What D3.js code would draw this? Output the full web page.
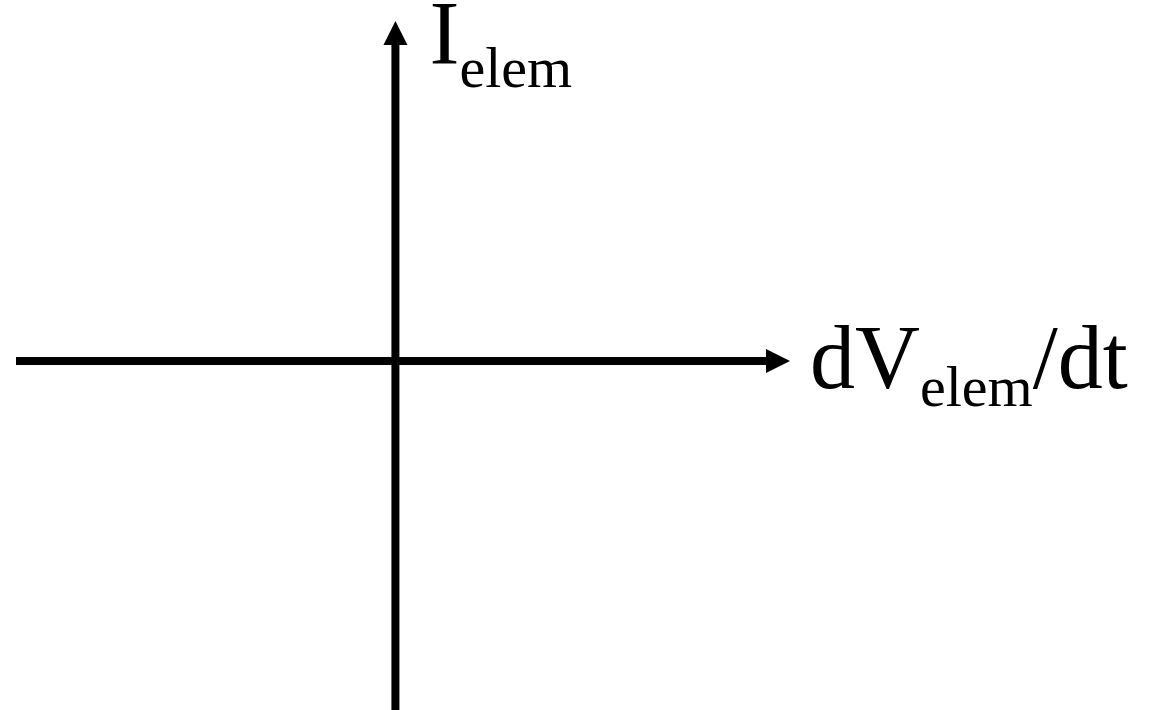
<!DOCTYPE html>
<html>
<head>
<meta charset="utf-8">
<script src="https://cdn.jsdelivr.net/npm/d3@7"></script>
<style>
  html, body { margin: 0; padding: 0; background: #fff; }
  svg { display: block; }
</style>
</head>
<body>
<div id="chart"></div>
<script>
// axis extents (arbitrary units, origin at 0)
const xExtent = [-1, 1.04];
const yExtent = [-1.05, 1];

// label parts: main text, subscript, trailing text
const xLabel = ["dV", "elem", "/dt"];
const yLabel = ["I", "elem", ""];

const width = 1168, height = 710;
const arrowLen = 24, arrowHalf = 12;
const fontMain = 90, fontSub = 58;

const svg = d3.select("#chart")
  .append("svg")
  .attr("width", width)
  .attr("height", height);

const x = d3.scaleLinear().domain(xExtent).range([16, 790]);
const y = d3.scaleLinear().domain(yExtent).range([718, 21]);

const g = svg.append("g");

// horizontal axis, stops at arrow base
g.append("line")
  .attr("x1", x(xExtent[0])).attr("x2", x(xExtent[1]) - arrowLen + 2)
  .attr("y1", y(0)).attr("y2", y(0))
  .attr("stroke", "#000").attr("stroke-width", 8);

g.append("path")
  .attr("d", d3.line()([
    [x(xExtent[1]), y(0)],
    [x(xExtent[1]) - arrowLen, y(0) - arrowHalf],
    [x(xExtent[1]) - arrowLen, y(0) + arrowHalf]
  ]) + "Z")
  .attr("fill", "#000");

// vertical axis
g.append("line")
  .attr("x1", x(0)).attr("x2", x(0))
  .attr("y1", y(yExtent[0])).attr("y2", y(yExtent[1]) + arrowLen - 2)
  .attr("stroke", "#000").attr("stroke-width", 8);

g.append("path")
  .attr("d", d3.line()([
    [x(0), y(yExtent[1])],
    [x(0) - arrowHalf, y(yExtent[1]) + arrowLen],
    [x(0) + arrowHalf, y(yExtent[1]) + arrowLen]
  ]) + "Z")
  .attr("fill", "#000");

function drawLabel(parts, px, py, subDrop) {
  const t = g.append("text")
    .attr("x", px).attr("y", py)
    .attr("font-family", "'Liberation Serif', 'Times New Roman', serif")
    .attr("font-size", fontMain)
    .attr("fill", "#000");
  t.append("tspan").text(parts[0]);
  t.append("tspan").attr("dy", subDrop).attr("font-size", fontSub).text(parts[1]);
  if (parts[2]) t.append("tspan").attr("dy", -subDrop).text(parts[2]);
}

drawLabel(yLabel, x(0) + 34, 64, 23);
drawLabel(xLabel, x(xExtent[1]) + 20, 388, 18);
</script>
</body>
</html>
